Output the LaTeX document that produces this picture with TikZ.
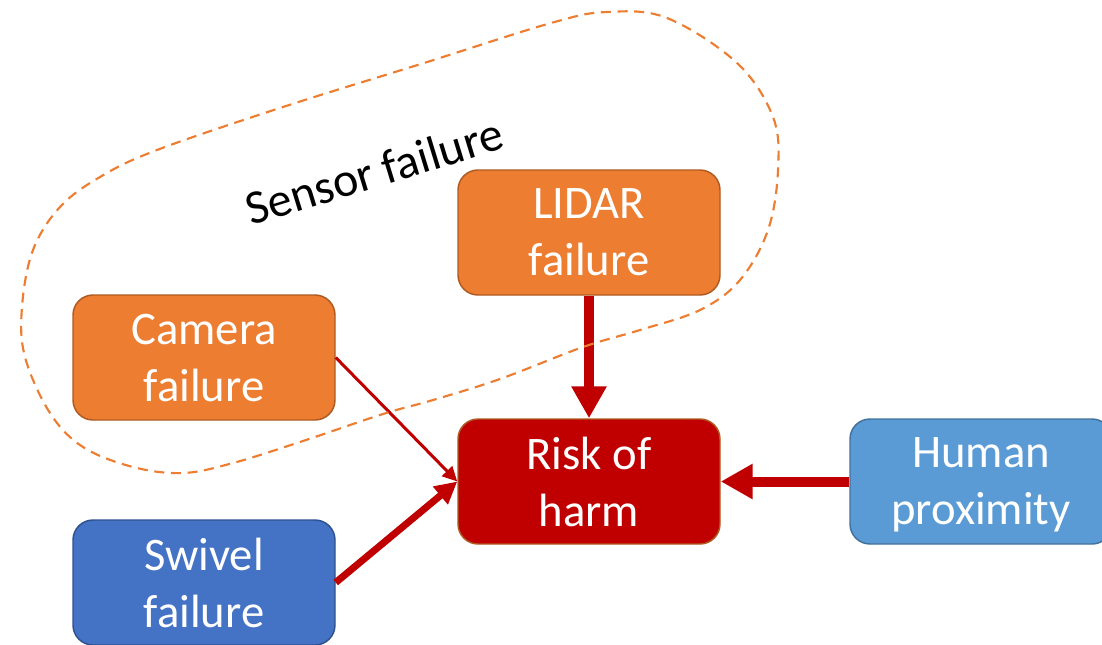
\documentclass[tikz,border=0pt]{standalone}
\usepackage{fontspec}
\setmainfont{Carlito}
\usetikzlibrary{arrows.meta}

\definecolor{accOrange}{HTML}{ED7D31}
\definecolor{accOrangeLine}{HTML}{AE5A21}
\definecolor{riskRed}{HTML}{C00000}
\definecolor{swivelBlue}{HTML}{4472C4}
\definecolor{swivelLine}{HTML}{2F528F}
\definecolor{humanBlue}{HTML}{5B9BD5}
\definecolor{humanLine}{HTML}{41719C}

\tikzset{
  factor/.style={rounded corners=15pt, line width=1.1pt, minimum width=196.5pt,
    minimum height=93.75pt, inner sep=0pt, align=center, text=white,
    text depth=0pt, font=\fontsize{35}{42.75}\selectfont},
  sensorbox/.style={factor, fill=accOrange, draw=accOrangeLine},
  riskbox/.style={factor, fill=riskRed, draw=accOrangeLine},
  swivelbox/.style={factor, fill=swivelBlue, draw=swivelLine},
  humanbox/.style={factor, fill=humanBlue, draw=humanLine},
  heavy/.style={draw=riskRed, line width=7.5pt,
    -{Triangle[length=24pt, width=25pt]}},
  medium/.style={draw=riskRed, line width=5.25pt,
    -{Triangle[length=16.5pt, width=16.5pt]}},
  light/.style={draw=riskRed, line width=2.25pt,
    -{Triangle[length=11pt, width=10.5pt]}},
  group/.style={draw=accOrange, line width=1.6pt, dash pattern=on 7.5pt off 5pt}
}

\begin{document}
\begin{tikzpicture}[x=0.75pt, y=-0.75pt]
  \useasboundingbox (0,0) rectangle (1102,644);
  \clip (0,0) rectangle (1102,644);

  % factor boxes
  \node[sensorbox] (lidar)  at (589,232.5) {LIDAR\\failure};
  \node[sensorbox] (camera) at (204,357.5) {Camera\\failure};
  \node[riskbox]   (risk)   at (589,481.5) {Risk of\\harm};
  \node[humanbox]  (human)  at (981,481.5) {Human\\proximity};
  \node[swivelbox] (swivel) at (204,582.5) {Swivel\\failure};

  % causal links
  \draw[heavy]  (lidar.south) -- (risk.north);
  \draw[heavy]  (human.west) -- (risk.east);
  \draw[medium] (swivel.east) -- (risk.west);
  \draw[light]  (camera.east) -- (risk.west);

  % grouping outline around the sensor failures
  \draw[group] plot[smooth cycle, tension=0.6] coordinates {
    (607,12) (667,18) (737,63) (773,117) (778,170) (768,230) (740,280)
    (700,310) (640,330) (583,347) (500,379) (433,400) (383,414) (300,442)
    (233,463) (183,473) (133,467) (83,447) (50,413) (25,357) (22,307)
    (33,250) (60,207) (100,177) (157,150) (283,107) (424,63) (551,23)};

  \node[anchor=base west, rotate=17, inner sep=0pt,
        font=\fontsize{36}{43}\selectfont] (grouplabel) at (251,226) {Sensor failure};
\end{tikzpicture}
\end{document}
